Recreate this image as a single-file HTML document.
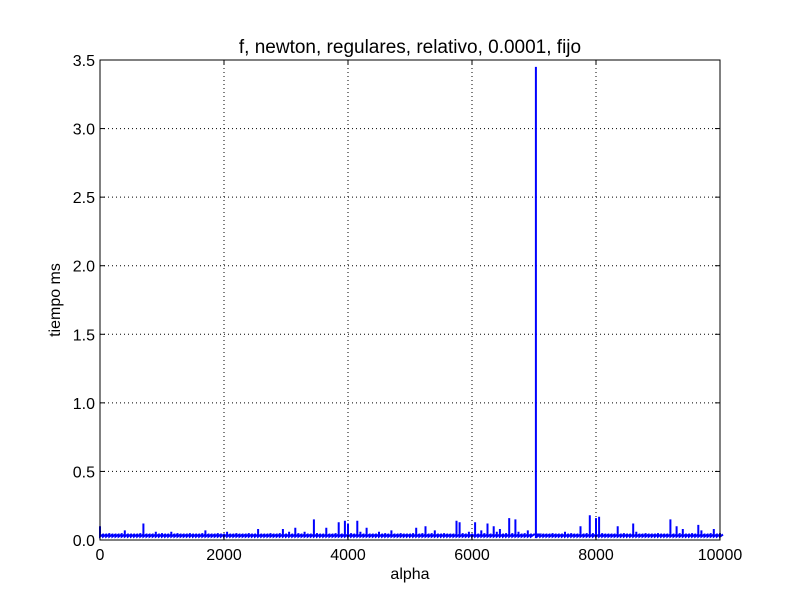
<!DOCTYPE html>
<html><head><meta charset="utf-8"><style>
body{margin:0;background:#fff;width:800px;height:600px;overflow:hidden}
svg{font-family:"Liberation Sans","DejaVu Sans",sans-serif}
</style></head><body>
<svg id="chart" width="800" height="600">
<rect x="0" y="0" width="800" height="600" fill="#fff"/>
<text x="410" y="53" font-size="19" text-anchor="middle">f, newton, regulares, relativo, 0.0001, fijo</text>
<g id="grid"></g>
<path id="series" fill="none" stroke="#0000ff" stroke-width="2"/>
<rect x="100" y="60" width="620" height="480" fill="none" stroke="#000" stroke-width="1"/>
<g id="ticks" font-size="16"></g>
<text x="410" y="579" font-size="16" text-anchor="middle">alpha</text>
<text x="60" y="300" font-size="16" text-anchor="middle" transform="rotate(-90 60 300)">tiempo ms</text>
</svg>
<script>
const xTicks=[0,2000,4000,6000,8000,10000];
const yTicks=[0,0.5,1,1.5,2,2.5,3,3.5];
const yLabels=["0.0","0.5","1.0","1.5","2.0","2.5","3.0","3.5"];
const alphas=[];for(let a=0;a<=10000;a+=50)alphas.push(a===7000?7030:a);
const times=[
0.1,0.04,0.03,0.05,0.04,0.03,0.04,0.05,0.07,0.04,0.04,0.03,0.04,0.05,0.12,0.04,0.03,0.04,0.06,0.04,
0.05,0.04,0.03,0.06,0.04,0.05,0.03,0.04,0.04,0.05,0.04,0.03,0.04,0.05,0.07,0.04,0.03,0.04,0.05,0.04,
0.04,0.06,0.04,0.03,0.05,0.04,0.04,0.03,0.05,0.04,0.04,0.08,0.04,0.03,0.04,0.05,0.04,0.04,0.05,0.08,
0.04,0.06,0.04,0.09,0.05,0.04,0.06,0.04,0.04,0.15,0.05,0.04,0.04,0.09,0.04,0.04,0.05,0.13,0.04,0.14,
0.12,0.05,0.04,0.14,0.06,0.04,0.09,0.04,0.04,0.03,0.06,0.04,0.05,0.04,0.07,0.04,0.04,0.05,0.04,0.04,
0.04,0.05,0.09,0.04,0.05,0.1,0.04,0.05,0.07,0.04,0.04,0.05,0.04,0.03,0.04,0.14,0.13,0.05,0.04,0.06,
0.04,0.13,0.04,0.07,0.05,0.12,0.04,0.1,0.06,0.08,0.04,0.05,0.16,0.05,0.15,0.06,0.04,0.05,0.07,0.04,
3.45,0.04,0.04,0.03,0.04,0.04,0.05,0.04,0.04,0.03,0.06,0.04,0.05,0.04,0.04,0.1,0.04,0.05,0.18,0.05,
0.16,0.17,0.05,0.04,0.03,0.04,0.04,0.1,0.04,0.05,0.04,0.04,0.12,0.06,0.04,0.04,0.05,0.04,0.04,0.04,
0.05,0.04,0.04,0.04,0.15,0.04,0.1,0.05,0.08,0.04,0.04,0.05,0.04,0.11,0.07,0.04,0.04,0.05,0.08,0.04,
0.05];
const X=v=>100+v/10000*620, Y=v=>540-v/3.5*480;
const ns="http://www.w3.org/2000/svg";
const grid=document.getElementById('grid'), ticks=document.getElementById('ticks');
function mk(tag,at,parent){const e=document.createElementNS(ns,tag);for(const k in at)e.setAttribute(k,at[k]);parent.appendChild(e);return e;}
xTicks.forEach((t,i)=>{
  const x=X(t);
  if(i>0&&i<xTicks.length-1){const g=mk('line',{x1:x,x2:x,y1:60,y2:540,stroke:'#000','stroke-dasharray':'1,3','stroke-width':1},grid);
  
  }
  mk('line',{x1:x,x2:x,y1:540,y2:535,stroke:'#000'},ticks);
  mk('line',{x1:x,x2:x,y1:60,y2:65,stroke:'#000'},ticks);
  const l=mk('text',{x:x,y:560,'text-anchor':'middle'},ticks);l.textContent=t;
  
  
});
yTicks.forEach((t,i)=>{
  const y=Y(t);
  if(i>0&&i<yTicks.length-1){const g=mk('line',{x1:100,x2:720,y1:y,y2:y,stroke:'#000','stroke-dasharray':'1,3','stroke-width':1},grid);
  
  }
  mk('line',{x1:100,x2:105,y1:y,y2:y,stroke:'#000'},ticks);
  mk('line',{x1:715,x2:720,y1:y,y2:y,stroke:'#000'},ticks);
  const l=mk('text',{x:95,y:y+6,'text-anchor':'end'},ticks);l.textContent=yLabels[i];
  
  
});
let d='';
alphas.forEach((a,i)=>{
  const x=X(a), base=Y(0.04), y=Y(times[i]), lo=Y(0.025);
  d+=(i?'L':'M')+x.toFixed(1)+' '+base.toFixed(1)+'L'+x.toFixed(1)+' '+y.toFixed(1)+'L'+x.toFixed(1)+' '+lo.toFixed(1)+'L'+(x+3).toFixed(1)+' '+base.toFixed(1);
});
document.getElementById('series').setAttribute('d',d);
</script>
</body></html>
